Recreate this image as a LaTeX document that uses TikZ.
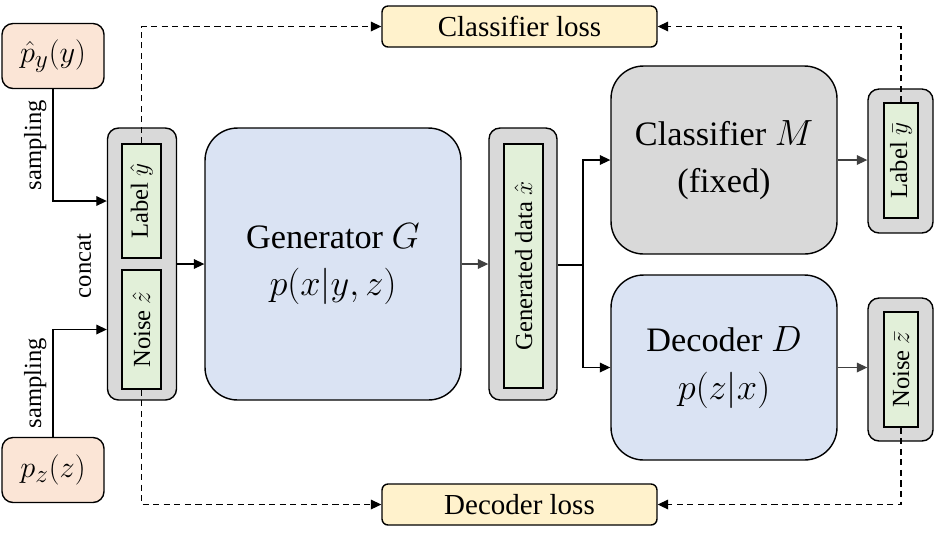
\documentclass[tikz,border=0pt]{standalone}
\usepackage{fontspec}
\setmainfont{Liberation Serif}
\usetikzlibrary{arrows.meta,positioning}

\definecolor{peach}{HTML}{FBE5D6}
\definecolor{leaf}{HTML}{E2F0D9}
\definecolor{stone}{HTML}{D9D9D9}
\definecolor{sky}{HTML}{DAE3F3}
\definecolor{cream}{HTML}{FFF2CC}

\tikzset{
    distbox/.style={draw, thick, fill=peach, rounded corners=0.22cm,
        minimum width=2.04cm, minimum height=1.3cm, font=\fontsize{19}{22}\selectfont},
    holder/.style={draw, thick, fill=stone, rounded corners=0.22cm, minimum width=1.38cm},
    slot/.style={draw, thick, fill=leaf, inner sep=0pt, minimum width=0.78cm,
        font=\fontsize{14}{16}\selectfont},
    bigbox/.style={draw, thick, rounded corners=0.65cm, align=center,
        font=\fontsize{19.5}{27}\selectfont},
    lossbox/.style={draw, thick, fill=cream, rounded corners=0.12cm,
        minimum width=5.5cm, minimum height=0.82cm, font=\fontsize{16.5}{19}\selectfont},
    flow/.style={->, line width=0.7pt},
    feedback/.style={->, line width=0.7pt, dash pattern=on 3.5pt off 2.5pt},
    tag/.style={font=\fontsize{14}{16}\selectfont}
}

\begin{document}
\begin{tikzpicture}[x=0.02cm, y=-0.02cm, >={Triangle[length=6pt,width=5.5pt]}]
    \useasboundingbox (0,0) rectangle (935,539);

    % priors
    \node[distbox] (py) at (53,56) {$\hat{p}_y(y)$};
    \node[distbox] (pz) at (53,470) {$p_z(z)$};

    % concatenated input
    \node[holder, minimum height=5.44cm] (inbox) at (142,264) {};
    \node[slot, minimum height=2.28cm] (ly) at (141.5,201) {\rotatebox{90}{Label $\hat{y}$}};
    \node[slot, minimum height=2.38cm] (nz) at (141.5,329.5) {\rotatebox{90}{Noise $\hat{z}$}};
    \node[tag, rotate=90] (concat) at (84,266) {concat};

    % generator
    \node[bigbox, fill=sky, minimum width=5.12cm, minimum height=5.44cm] (gen) at (333,264)
        {Generator $G$\\ $p(x|y,z)$};

    % generated data
    \node[holder, minimum width=1.36cm, minimum height=5.44cm] (gdbox) at (523,264) {};
    \node[slot, minimum height=4.88cm] (gd) at (523.5,266) {\rotatebox{90}{Generated data $\hat{x}$}};

    % classifier and decoder
    \node[bigbox, fill=stone, minimum width=4.52cm, minimum height=3.76cm] (cls) at (724,160)
        {Classifier $M$\\ (fixed)};
    \node[bigbox, fill=sky, minimum width=4.52cm, minimum height=3.7cm] (dec) at (724,367.5)
        {Decoder $D$\\ $p(z|x)$};

    % outputs
    \node[holder, minimum width=1.3cm, minimum height=2.88cm] (lbox) at (900.5,161) {};
    \node[slot, minimum width=0.68cm, minimum height=2.3cm] (lb) at (901,160.5) {\rotatebox{90}{Label $\bar{y}$}};
    \node[holder, minimum width=1.3cm, minimum height=2.86cm] (nbox) at (900.5,369.5) {};
    \node[slot, minimum width=0.68cm, minimum height=2.3cm] (nb) at (901,369.5) {\rotatebox{90}{Noise $\bar{z}$}};

    % losses
    \node[lossbox] (closs) at (519.5,26.5) {Classifier loss};
    \node[lossbox] (dloss) at (519.5,504.5) {Decoder loss};

    % forward flow
    \draw[flow] (py.south) |- node[tag, pos=0.25, rotate=90, anchor=south] {sampling} (ly -| inbox.west);
    \draw[flow] (pz.north) |- node[tag, pos=0.25, rotate=90, anchor=south] {sampling} (nz -| inbox.west);
    \draw[flow] (inbox) -- (gen);
    \draw[flow, black!75] (gen) -- (gdbox);
    \coordinate (split) at (583,265);
    \draw[line width=0.7pt] (gdbox.east |- split) -- (split);
    \draw[flow] (split) |- (cls.west);
    \draw[flow] (split) |- (dec.west);
    \draw[flow, black!75] (cls.east) -- (lbox.west |- cls.east);
    \draw[flow, black!75] (dec.east) -- (nbox.west |- dec.east);

    % losses feedback
    \draw[feedback] (ly.north) |- (closs.west);
    \draw[feedback] (lb.north) |- (closs.east);
    \draw[feedback] (nz.south) |- (dloss.west);
    \draw[feedback] (nb.south) |- (dloss.east);
\end{tikzpicture}
\end{document}
